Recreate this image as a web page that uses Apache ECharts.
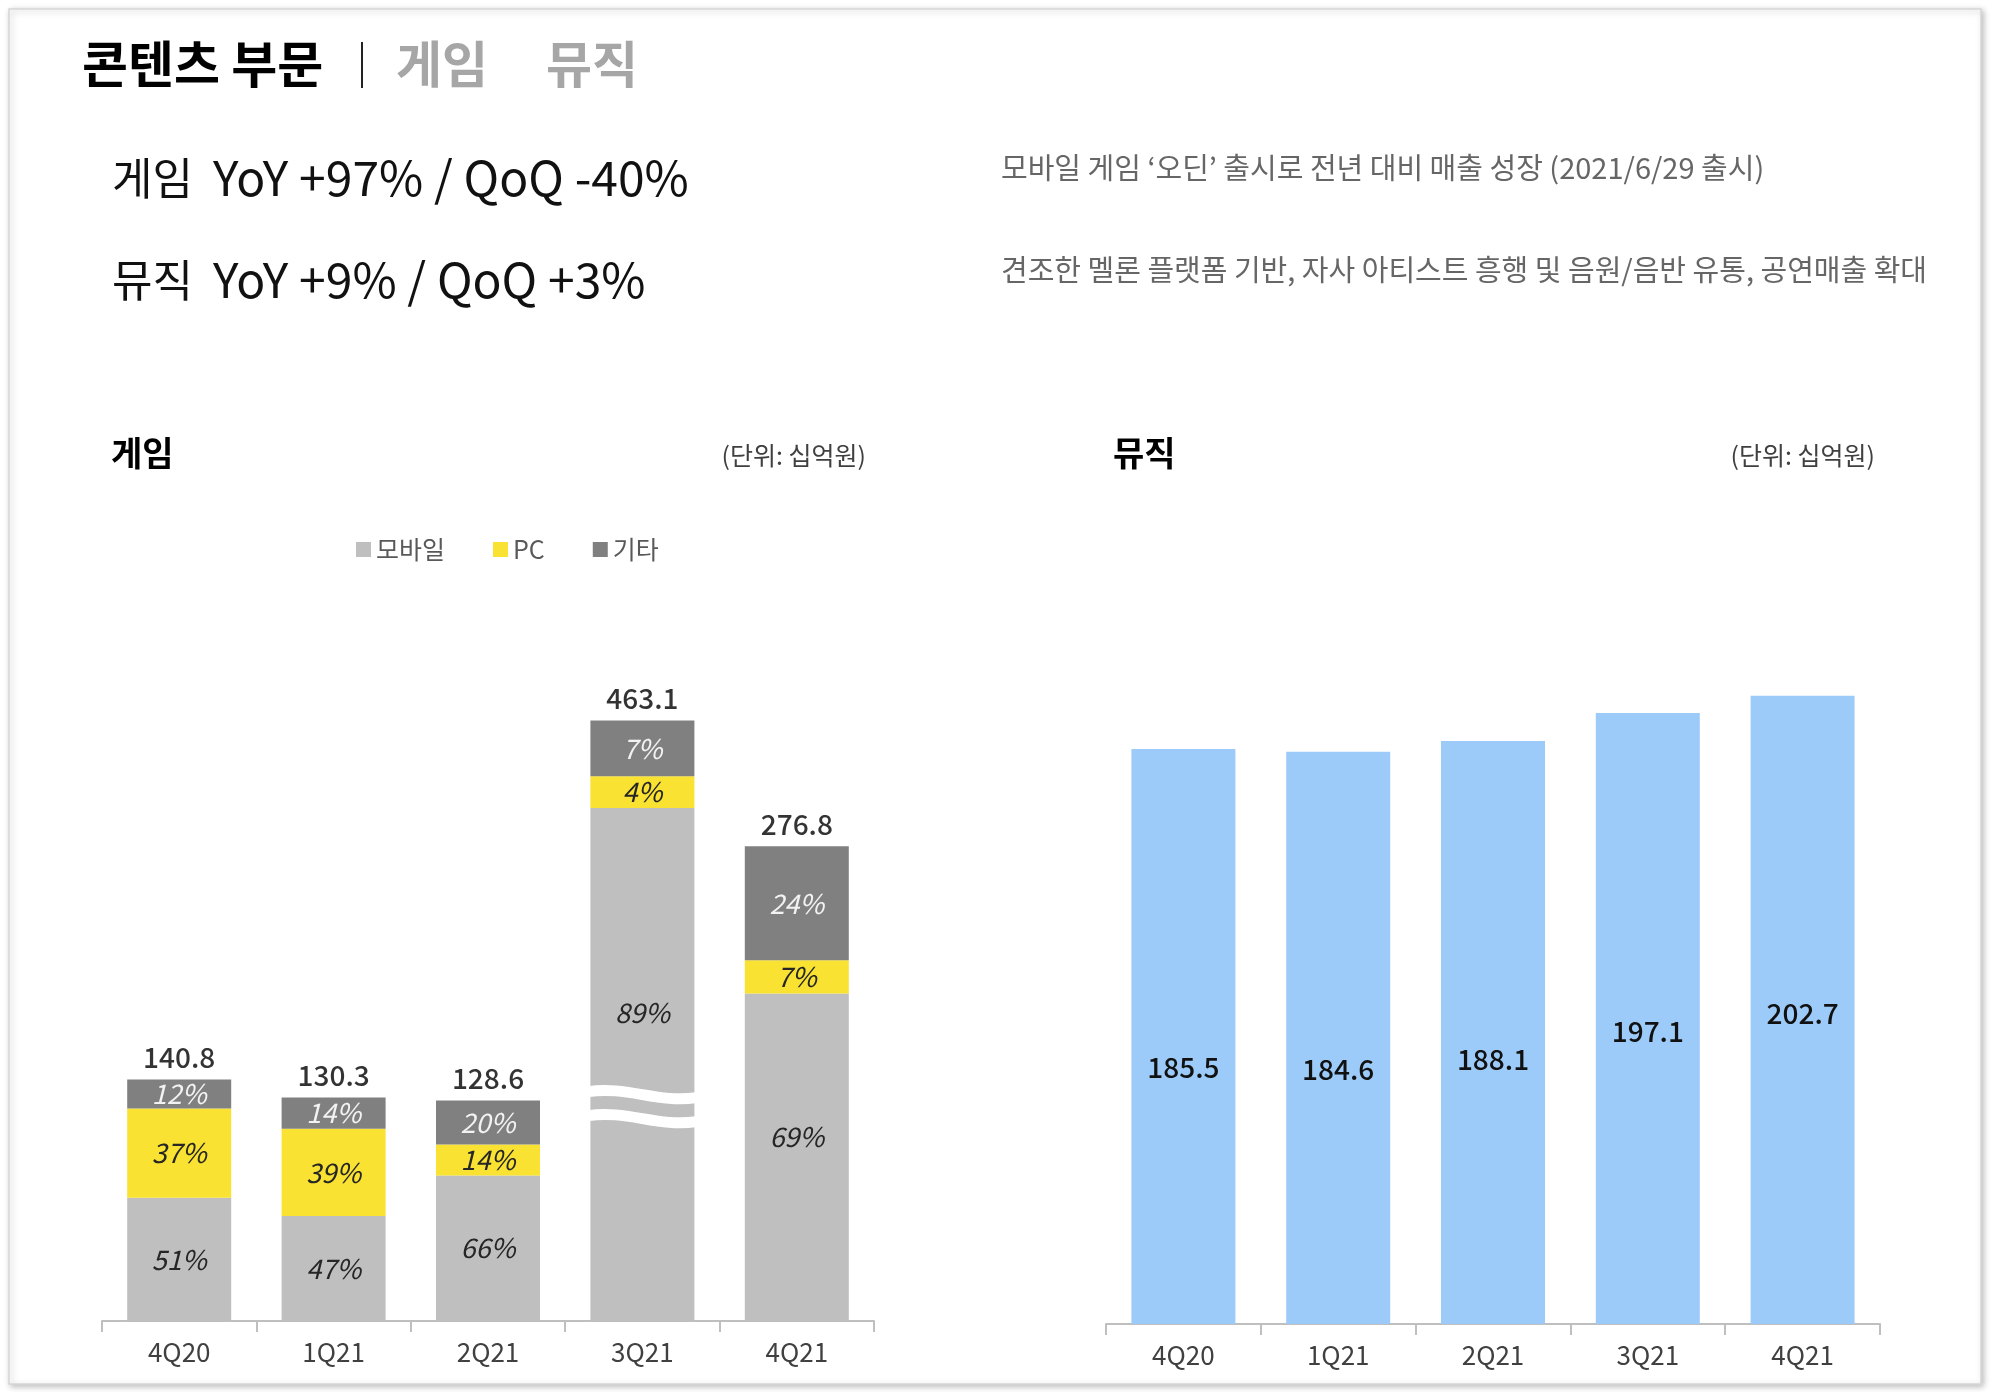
<!DOCTYPE html>
<html><head><meta charset="utf-8">
<script src="https://cdn.jsdelivr.net/npm/echarts@6/dist/echarts.min.js"></script>
<style>html,body{margin:0;padding:0;background:#fff}#c{width:1992px;height:1392px}</style>
</head><body><div id="c"></div>
<script>
// ---------- data ----------
const quarters = ['4Q20', '1Q21', '2Q21', '3Q21', '4Q21'];
const gameTotal = [140.8, 130.3, 128.6, 463.1, 276.8];
const gameMobilePct = [51, 47, 66, 89, 69];
const gamePcPct = [37, 39, 14, 4, 7];
const gameEtcPct = [12, 14, 20, 7, 24];
const gameAxisCut = [0, 0, 0, 113, 0];      // value hidden by the broken 3Q21 bar
const gameBreakCategory = '3Q21';
const gameBreakMarks = [132, 118];          // values where the break waves sit
const musicValues = [185.5, 184.6, 188.1, 197.1, 202.7];
const legendNames = ['모바일', 'PC', '기타'];

// ---------- styling ----------
const FONT = '"Noto Sans CJK KR", "Noto Sans", sans-serif';
const C_MOBILE = '#bfbfbf', C_PC = '#f9e231', C_ETC = '#808080', C_MUSIC = '#9dcbf9';
const mobileLabelOffset = [0, 0, 0, -52, -20];

const mobileVals = gameTotal.map((t, i) => +(t * gameMobilePct[i] / 100 - gameAxisCut[i]).toFixed(2));
const pcVals = gameTotal.map((t, i) => +(t * gamePcPct[i] / 100).toFixed(2));
const etcVals = gameTotal.map((t, i) => +(t * gameEtcPct[i] / 100).toFixed(2));
const drawnTotals = gameTotal.map((t, i) => +(t - gameAxisCut[i]).toFixed(2));

const pctLabel = (arr, color) => ({
  show: true, position: 'inside', fontFamily: FONT, fontSize: 27, fontStyle: 'italic',
  color: color, formatter: p => arr[p.dataIndex] + '%'
});

const xAxisCommon = {
  type: 'category', data: quarters,
  axisLine: { lineStyle: { color: '#bfbfbf', width: 2 } },
  axisTick: { show: true, length: 11, lineStyle: { color: '#bfbfbf', width: 2 } },
  axisLabel: { color: '#404040', fontSize: 26, fontFamily: FONT, margin: 18 }
};

const chart = echarts.init(document.getElementById('c'), null, { renderer: 'canvas' });

const txt = (x, y, text, size, color, weight, align) => ({
  type: 'text', x: x, y: y, z: 5,
  style: { text: text, fontFamily: FONT, fontSize: size, fill: color, fontWeight: weight || 'normal',
           textAlign: align || 'left', textVerticalAlign: 'middle' }
});

chart.setOption({
  animation: false,
  backgroundColor: '#ffffff',
  textStyle: { fontFamily: FONT },
  graphic: [
    { type: 'rect', z: -10, shape: { x: 9, y: 9, width: 1972, height: 1375 },
      style: { fill: '#fff', stroke: '#d6d6d6', lineWidth: 1.5, shadowBlur: 6, shadowColor: 'rgba(0,0,0,0.25)', shadowOffsetX: 2, shadowOffsetY: 2 } },
    txt(82, 64, '콘텐츠 부문', 50, '#000', 'bold'),
    { type: 'line', z: 5, shape: { x1: 362, y1: 42, x2: 362, y2: 88 }, style: { stroke: '#222', lineWidth: 2 } },
    txt(396, 64, '게임', 50, '#a6a6a6', 'bold'),
    txt(546, 64, '뮤직', 50, '#a6a6a6', 'bold'),
    txt(112, 178, '게임', 44, '#111'),
    txt(213, 178, 'YoY +97% / QoQ -40%', 48, '#111'),
    txt(112, 280, '뮤직', 44, '#111'),
    txt(213, 280, 'YoY +9% / QoQ +3%', 48, '#111'),
    txt(1001, 168, '모바일 게임 ‘오딘’ 출시로 전년 대비 매출 성장 (2021/6/29 출시)', 29, '#666'),
    txt(1001, 270, '견조한 멜론 플랫폼 기반, 자사 아티스트 흥행 및 음원/음반 유통, 공연매출 확대', 29, '#666'),
    txt(111, 453, '게임', 34, '#000', 'bold'),
    txt(866, 455, '(단위: 십억원)', 25, '#404040', 'normal', 'right'),
    txt(1113, 453, '뮤직', 34, '#000', 'bold'),
    txt(1875, 455, '(단위: 십억원)', 25, '#404040', 'normal', 'right')
  ],
  legend: {
    data: legendNames, left: 351, top: 532, icon: 'rect', itemWidth: 15, itemHeight: 15, itemGap: 48,
    textStyle: { fontFamily: FONT, fontSize: 25, color: '#595959' }, selectedMode: false
  },
  grid: [
    { left: 102, right: 1118, top: 635, bottom: 71 },
    { left: 1106, right: 112, top: 549, bottom: 68 }
  ],
  xAxis: [
    Object.assign({ gridIndex: 0 }, xAxisCommon),
    Object.assign({ gridIndex: 1 }, xAxisCommon)
  ],
  yAxis: [
    { gridIndex: 0, type: 'value', min: 0, max: 400, show: false },
    { gridIndex: 1, type: 'value', min: 0, max: 250, show: false }
  ],
  series: [
    { name: '모바일', type: 'bar', stack: 'g', xAxisIndex: 0, yAxisIndex: 0, barWidth: 104,
      itemStyle: { color: C_MOBILE }, emphasis: { disabled: true },
      data: mobileVals.map((v, i) => ({ value: v, label: { offset: [0, mobileLabelOffset[i]] } })),
      label: pctLabel(gameMobilePct, '#262626') },
    { name: 'PC', type: 'bar', stack: 'g', xAxisIndex: 0, yAxisIndex: 0, barWidth: 104,
      itemStyle: { color: C_PC }, emphasis: { disabled: true },
      data: pcVals, label: pctLabel(gamePcPct, '#262626') },
    { name: '기타', type: 'bar', stack: 'g', xAxisIndex: 0, yAxisIndex: 0, barWidth: 104,
      itemStyle: { color: C_ETC }, emphasis: { disabled: true },
      data: etcVals, label: pctLabel(gameEtcPct, '#f2f2f2') },
    { name: 'total', type: 'scatter', xAxisIndex: 0, yAxisIndex: 0, symbolSize: 0, z: 6,
      data: drawnTotals, silent: true,
      label: { show: true, position: 'top', distance: 8, fontFamily: FONT, fontSize: 28, fontWeight: 500, color: '#000',
               formatter: p => gameTotal[p.dataIndex].toFixed(1) } },
    { name: 'break', type: 'custom', xAxisIndex: 0, yAxisIndex: 0, z: 10, silent: true,
      data: gameBreakMarks.map(v => [gameBreakCategory, v]),
      renderItem: (params, api) => {
        const c = api.coord([api.value(0), api.value(1)]);
        const w = api.size([1, 0])[0] * 0.7;
        const x0 = c[0] - w / 2, x1 = c[0] + w / 2;
        return { type: 'bezierCurve',
          shape: { x1: x0, y1: c[1] - 3, cpx1: x0 + w * 0.35, cpy1: c[1] - 9, cpx2: x0 + w * 0.65, cpy2: c[1] + 9, x2: x1, y2: c[1] + 3 },
          style: { stroke: '#ffffff', lineWidth: 11, fill: null } };
      } },
    { name: '뮤직', type: 'bar', xAxisIndex: 1, yAxisIndex: 1, barWidth: 104,
      itemStyle: { color: C_MUSIC }, emphasis: { disabled: true },
      data: musicValues,
      label: { show: true, position: 'insideTop', distance: 304, fontFamily: FONT, fontSize: 28, fontWeight: 500, color: '#111',
               formatter: p => p.value.toFixed(1) } }
  ]
});
</script></body></html>
